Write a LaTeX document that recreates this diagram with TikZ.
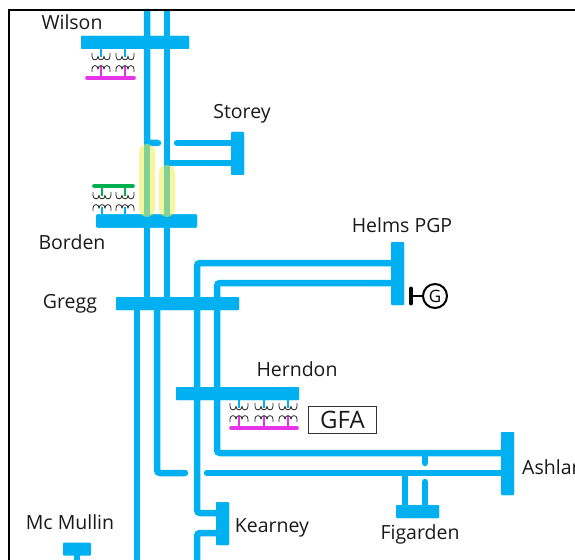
\documentclass[tikz,border=0pt]{standalone}
\usepackage{fontspec}
\setmainfont{Open Sans}
\definecolor{busblue}{HTML}{00B0F0}
\definecolor{tapmag}{HTML}{E834E8}
\definecolor{tapgreen}{HTML}{00B050}
\definecolor{hilite}{HTML}{EEEE50}
\tikzset{
 busbar/.style={fill=busblue,draw=none,rounded corners=1bp,inner sep=0pt,outer sep=0pt,minimum width=#1},
 hbus/.style={busbar=#1,minimum height=13bp},
 vbus/.style={busbar=13bp,minimum height=#1},
 feeder/.style={draw=busblue,line width=6.5bp,rounded corners=3bp},
 stub/.style={feeder,line cap=round},
 label/.style={font=\fontsize{19.5bp}{22bp}\selectfont,text=black!90,inner sep=0pt},
 hibox/.style={fill=hilite,fill opacity=.55,draw=none,rounded corners=8bp,inner sep=0pt,minimum width=16bp},
 coil/.style={draw=black!85,line width=.8bp},
 taplow/.style={line width=2.6bp,draw=#1},
 tapup/.style={line width=2.6bp,draw=busblue},
 lowbus/.style={line width=3.6bp,line cap=round,draw=#1},
 xfmr/.pic={
  \draw[coil] (-9,0) -- (-9,3.5) .. controls (-9,8) and (-3,8) .. (-3,3.5)
     .. controls (-3,8) and (3,8) .. (3,3.5) .. controls (3,8) and (9,8) .. (9,3.5) -- (9,0);
  \draw[coil] (-9,19) -- (-9,16) .. controls (-9,11.5) and (-3,11.5) .. (-3,16)
     .. controls (-3,11.5) and (3,11.5) .. (3,16) .. controls (3,11.5) and (9,11.5) .. (9,16) -- (9,19);
 }
}
\begin{document}
\begin{tikzpicture}[x=1bp,y=-1bp]
\useasboundingbox (0,0) rectangle (575,560);
\clip (0,0) rectangle (575,560);
% buses
\node[hbus=108bp] (wilson) at (135,42.5) {};
\node[hbus=101bp] (borden) at (146.5,221) {};
\node[hbus=123bp] (gregg) at (177.5,303.5) {};
\node[hbus=123bp] (herndon) at (237.5,393.5) {};
\node[hbus=43bp] (figarden) at (417.5,511.5) {};
\node[hbus=28bp] (mcmullin) at (77,549) {};
\node[vbus=43bp] (storey) at (237.5,153.5) {};
\node[vbus=63bp] (helms) at (397.5,273.5) {};
\node[vbus=63bp] (ashland) at (507.5,463.5) {};
\node[vbus=43bp] (kearney) at (222.5,523.5) {};
% free ends
\coordinate (t1) at (147,9);
\coordinate (t2) at (167,9);
\coordinate (s1) at (158,143);
\coordinate (s2) at (177,143);
\coordinate (g1) at (185,473);
\coordinate (g2) at (207,473);
\coordinate (b1) at (137,561);
\coordinate (b2) at (197,561);
\coordinate (b3) at (77,561);
\coordinate (f1) at (425,463);
\coordinate (f2) at (425,482);
% feeders
\draw[feeder] (t1) -- (147,143) -- (s1);
\draw[stub] (147,143) -- (s1);
\draw[feeder] (147,143) -- (147,303.5);
\draw[stub] (s2) -- (storey.center |- s2);
\draw[feeder] (t2) -- (167,303.5);
\draw[feeder] (167,163) -- (storey.center |- 0,163);
\draw[feeder] (helms.center |- 0,263) -- (197,263) -- (197,513) -- (kearney.center |- 0,513);
\draw[feeder] (helms.center |- 0,283) -- (217,283) -- (217,453) -- (ashland.center |- 0,453);
\draw[feeder] (137,303.5) -- (b1);
\draw[stub] (157,303.5) -- (157,473) -- (g1);
\draw[stub] (g2) -- (ashland.center |- g2);
\draw[feeder] (kearney.center |- 0,533) -- (197,533) -- (b2);
\draw[feeder] (405,473) -- (figarden.center -| 405,0);
\draw[stub] (425,453) -- (f1);
\draw[stub] (f2) -- (figarden.center -| f2);
\draw[feeder] (mcmullin.center) -- (b3);
% redraw buses on top
\node[hbus=108bp] at (wilson) {};
\node[hbus=101bp] at (borden) {};
\node[hbus=123bp] at (gregg) {};
\node[hbus=123bp] at (herndon) {};
\node[vbus=43bp] at (storey) {};
\node[vbus=63bp] at (helms) {};
\node[vbus=63bp] at (ashland) {};
\node[vbus=43bp] at (kearney) {};
\node[hbus=43bp] at (figarden) {};
% highlights
\node[hibox,minimum height=73bp] (h1) at (147,180.5) {};
\node[hibox,minimum height=52bp] (h2) at (167,191) {};
% Wilson transformers
\foreach \x in {101,125}{
 \draw[tapup] (wilson.south -| \x,0) -- (\x,57.5);
 \draw[taplow=tapmag] (\x,66) -- (\x,78);
 \pic at (\x,53) {xfmr};
}
\draw[lowbus=tapmag] (87,78) -- (134,78);
% Borden transformers
\foreach \x in {102,125}{
 \draw[tapup] (\x,207) -- (borden.north -| \x,0);
 \draw[taplow=tapgreen] (\x,186) -- (\x,196);
 \pic at (\x,192) {xfmr};
}
\draw[lowbus=tapgreen] (94,186) -- (133,186);
% Herndon transformers
\foreach \x in {239,264,288}{
 \draw[tapup] (herndon.south -| \x,0) -- (\x,407.5);
 \draw[taplow=tapmag] (\x,416) -- (\x,428);
 \pic at (\x,403) {xfmr};
}
\draw[lowbus=tapmag] (231,428) -- (297,428);
% generator
\node[draw=black,line width=2bp,circle,minimum size=24bp,inner sep=0pt,font=\fontsize{17bp}{19bp}\selectfont] (gen) at (435,296) {G};
\coordinate (genbar) at (411,296);
\draw[black,line width=2bp] (genbar) -- (gen);
\draw[black,line width=4bp,line cap=round] (411,288.5) -- (411,303.5);
% GFA box
\node[draw=black!80,line width=1bp,minimum width=68bp,minimum height=27bp,inner sep=0pt,font=\fontsize{24bp}{26bp}\selectfont,text=black!90] (gfa) at (342.5,420) {GFA};
% labels
\node[label] (lw) at (72,22) {Wilson};
\node[label] (ls) at (242,114) {Storey};
\node[label] (lb) at (72,242) {Borden};
\node[label] (lg) at (70,303.5) {Gregg};
\node[label] (lh) at (402,225) {Helms PGP};
\node[label] (ln) at (297,369) {Herndon};
\node[label] (lk) at (272,528) {Kearney};
\node[label] (lm) at (70,522) {Mc Mullin};
\node[label] (lf) at (420,534) {Figarden};
\node[label,anchor=west] (la) at (522,467) {Ashland};
% frame
\coordinate (fa) at (9,561);
\coordinate (fb) at (9,10.5);
\coordinate (fc) at (576,10.5);
\draw[black,line width=2bp] (fa) -- (fb) -- (fc);
\end{tikzpicture}
\end{document}
